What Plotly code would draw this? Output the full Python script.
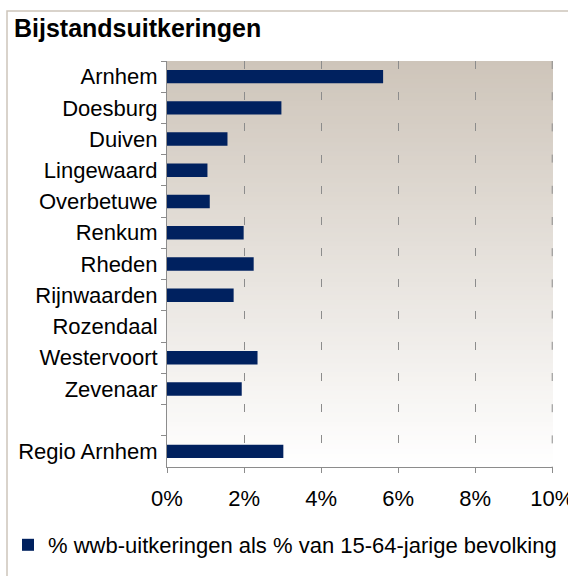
import plotly.graph_objects as go

# ---- data ----
categories = ["Arnhem", "Doesburg", "Duiven", "Lingewaard", "Overbetuwe", "Renkum",
              "Rheden", "Rijnwaarden", "Rozendaal", "Westervoort", "Zevenaar", " ",
              "Regio Arnhem"]
values = [0.0561, 0.0297, 0.0157, 0.0105, 0.0111, 0.0199,
          0.0225, 0.0173, None, 0.0235, 0.0194, None,
          0.0302]
x_ticks = [0, 0.02, 0.04, 0.06, 0.08, 0.10]
series_name = "% wwb-uitkeringen als % van 15-64-jarige bevolking"
title_text = "Bijstandsuitkeringen"

FONT = "Liberation Sans, Arial, sans-serif"
W, H = 568, 576
L, R, T, B = 167, 15, 61, 109
GRID = "#8c8c8c"
DASH = "8px,23.2px"

fig = go.Figure()
fig.add_trace(go.Bar(
    y=categories, x=values, orientation="h",
    marker=dict(color="#00215F", line=dict(width=0)),
    width=0.43, name=series_name, showlegend=True,
))

# gradient background of plot area (top tan -> bottom white)
shapes = []
N = 90
top = (206, 197, 186)
for i in range(N):
    t = i / (N - 1)
    c = tuple(round(top[k] + (255 - top[k]) * t) for k in range(3))
    y1 = 1 - i / N
    y0 = 1 - (i + 1) / N
    shapes.append(dict(type="rect", xref="x domain", yref="y domain",
                       x0=0, x1=1, y0=y0 - 0.002, y1=y1,
                       fillcolor="rgb(%d,%d,%d)" % c, line=dict(width=0),
                       layer="below"))

# dashed gridline at the last tick (right edge of the plot)
shapes.append(dict(type="line", xref="x", yref="y domain",
                   x0=x_ticks[-1], x1=x_ticks[-1], y0=1, y1=0,
                   line=dict(color=GRID, width=1, dash=DASH), layer="above"))

# outer chart frame
pw, ph = W - L - R, H - T - B
def px2paper_x(px):
    return (px - L) / pw
def py2paper_y(py):
    return (H - B - py) / ph
shapes.append(dict(type="rect", xref="paper", yref="paper",
                   x0=px2paper_x(7), x1=px2paper_x(580),
                   y0=py2paper_y(590), y1=py2paper_y(11),
                   line=dict(color="#cdc5bb", width=1.5),
                   fillcolor="rgba(0,0,0,0)", layer="below"))

fig.update_layout(
    width=W, height=H,
    margin=dict(l=L, r=R, t=T, b=B, pad=0, autoexpand=False),
    paper_bgcolor="white", plot_bgcolor="white",
    font=dict(family=FONT, size=22, color="black"),
    title=dict(text=title_text, font=dict(family=FONT, size=25, color="black", weight="bold"),
               xref="container", yref="container", automargin=False,
               x=14 / W, xanchor="left", y=1 - 28 / H, yanchor="middle"),
    showlegend=True,
    legend=dict(orientation="h", xref="container", yref="container",
                x=8 / W, xanchor="left", y=1 - 545 / H, yanchor="middle",
                font=dict(family=FONT, size=22, color="black"),
                itemwidth=30, bgcolor="rgba(0,0,0,0)"),
    shapes=shapes,
)

fig.update_xaxes(
    range=[0, 0.1002], tickvals=x_ticks, tickformat=".0%",
    showgrid=True, gridcolor=GRID, gridwidth=1, griddash=DASH,
    showline=True, linecolor=GRID, linewidth=1,
    ticks="outside", ticklen=5, tickcolor=GRID,
    zeroline=False, ticklabelstandoff=7, ticklabeloverflow="allow",
    automargin=False,
    tickfont=dict(family=FONT, size=22, color="black"),
    fixedrange=True,
)
fig.update_yaxes(
    type="category", categoryorder="array", categoryarray=categories,
    autorange="reversed", tickson="boundaries",
    ticks="outside", ticklen=5, tickcolor=GRID,
    showline=True, linecolor=GRID, linewidth=1,
    showgrid=False, zeroline=False, ticklabelstandoff=4,
    automargin=False,
    tickfont=dict(family=FONT, size=22, color="black"),
    fixedrange=True,
)

fig.write_html("out.html", config={"displayModeBar": False},
               post_script="document.body.style.margin='0px';document.body.style.overflow='hidden';")
